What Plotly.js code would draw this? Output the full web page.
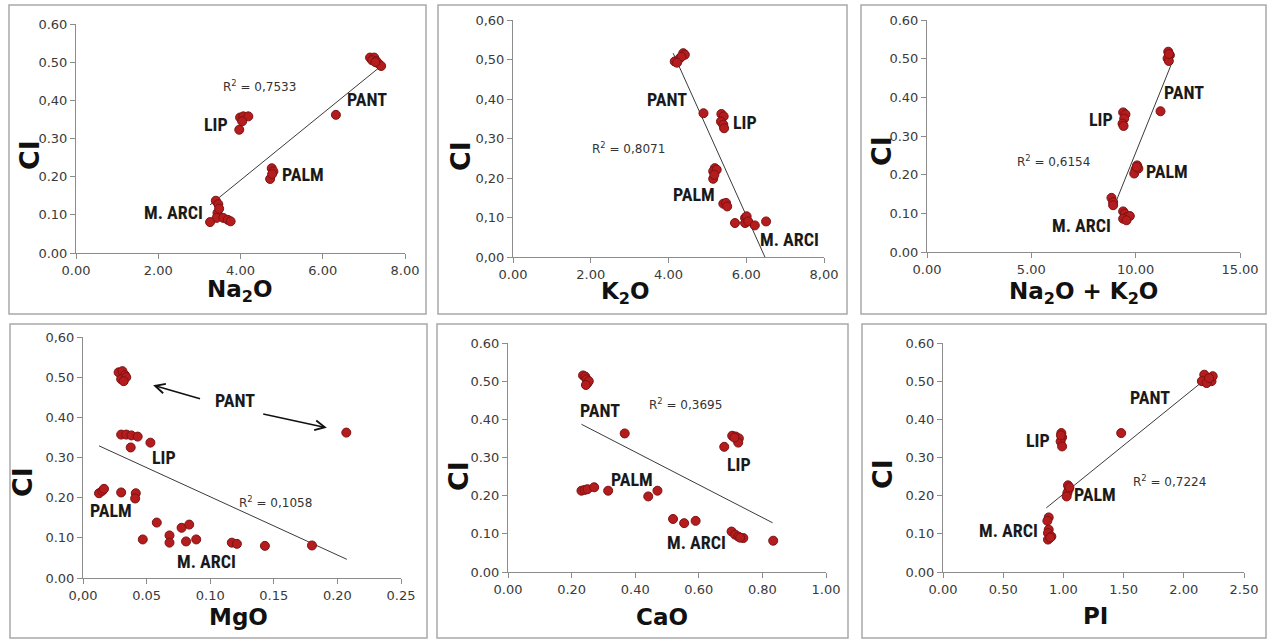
<!DOCTYPE html>
<html>
<head>
<meta charset="utf-8">
<script src="https://cdn.plot.ly/plotly-3.0.1.min.js"></script>
<style>
  html, body { margin: 0; padding: 0; background: #ffffff; }
  #chart { width: 1268px; height: 641px; }
</style>
</head>
<body>
<div id="chart"></div>
<script>
// ---------- DATA ----------
const groupNames = ["PANT", "LIP", "PALM", "M. ARCI"];

// Panel 1: Na2O vs CI
const na2oX  = [7.15, 7.25, 7.20, 7.30, 7.35, 7.42, 7.28, 6.32,
                3.99, 4.07, 4.19, 4.04, 3.97,
                4.76, 4.80, 4.72, 4.77,
                3.40, 3.46, 3.44, 3.42, 3.26, 3.58, 3.69, 3.76, 3.48];
const na2oCI = [0.512, 0.512, 0.505, 0.503, 0.497, 0.490, 0.500, 0.362,
                0.355, 0.358, 0.358, 0.345, 0.323,
                0.222, 0.214, 0.194, 0.207,
                0.137, 0.128, 0.105, 0.092, 0.081, 0.092, 0.087, 0.083, 0.116];
const na2oFitX  = [3.26, 7.42];
const na2oFitCI = [0.126, 0.490];
const na2oR2 = "0,7533";

// Panel 2: K2O vs CI
const k2oX  = [4.16, 4.29, 4.38, 4.42, 4.33, 4.22, 4.90,
               5.36, 5.42, 5.35, 5.41, 5.43,
               5.19, 5.15, 5.24, 5.15, 5.18,
               5.41, 5.48, 5.51, 5.71, 5.97, 6.01, 5.97, 6.05, 6.22, 6.51];
const k2oCI = [0.495, 0.503, 0.516, 0.512, 0.507, 0.492, 0.364,
               0.362, 0.356, 0.343, 0.335, 0.326,
               0.225, 0.217, 0.221, 0.198, 0.208,
               0.135, 0.137, 0.128, 0.086, 0.099, 0.103, 0.086, 0.090, 0.080, 0.090];
const k2oFitX  = [4.12, 6.48];
const k2oFitCI = [0.516, 0.0];
const k2oR2 = "0,8071";

// Panel 3: Na2O + K2O vs CI
const alkX  = [11.56, 11.64, 11.53, 11.59, 11.60, 11.19,
               9.40, 9.51, 9.45, 9.37, 9.42,
               10.07, 9.99, 9.93, 10.13, 10.05,
               8.84, 8.92, 8.92, 9.40, 9.48, 9.61, 9.72, 9.40, 9.56];
const alkCI = [0.518, 0.509, 0.501, 0.494, 0.512, 0.364,
               0.361, 0.356, 0.345, 0.332, 0.326,
               0.224, 0.213, 0.203, 0.216, 0.220,
               0.140, 0.129, 0.121, 0.105, 0.099, 0.091, 0.093, 0.086, 0.082];
const alkFitX  = [8.92, 11.69];
const alkFitCI = [0.112, 0.483];
const alkR2 = "0,6154";

// Panel 4: MgO vs CI
const mgoX  = [0.028, 0.031, 0.033, 0.030, 0.034, 0.032, 0.207,
               0.030, 0.034, 0.038, 0.043, 0.053, 0.0375,
               0.0126, 0.0152, 0.0165, 0.030, 0.0415, 0.041,
               0.047, 0.058, 0.068, 0.068, 0.0775, 0.0835, 0.081, 0.089, 0.117, 0.121, 0.143, 0.180];
const mgoCI = [0.512, 0.515, 0.505, 0.495, 0.500, 0.490, 0.362,
               0.357, 0.357, 0.355, 0.352, 0.337, 0.325,
               0.211, 0.217, 0.222, 0.213, 0.211, 0.198,
               0.096, 0.138, 0.106, 0.088, 0.125, 0.133, 0.091, 0.096, 0.088, 0.085, 0.080, 0.081];
const mgoFitX  = [0.0126, 0.2074];
const mgoFitCI = [0.329, 0.0465];
const mgoR2 = "0,1058";

// Panel 5: CaO vs CI
const caoX  = [0.236, 0.243, 0.247, 0.250, 0.254, 0.245, 0.367,
               0.705, 0.716, 0.726, 0.724, 0.680, 0.712,
               0.231, 0.241, 0.250, 0.271, 0.315, 0.441, 0.470,
               0.519, 0.554, 0.590, 0.703, 0.714, 0.724, 0.740, 0.730, 0.834];
const caoCI = [0.515, 0.512, 0.505, 0.495, 0.500, 0.490, 0.363,
               0.357, 0.355, 0.350, 0.339, 0.328, 0.352,
               0.213, 0.215, 0.217, 0.222, 0.213, 0.198, 0.213,
               0.139, 0.128, 0.134, 0.106, 0.098, 0.093, 0.089, 0.090, 0.082];
const caoFitX  = [0.231, 0.832];
const caoFitCI = [0.387, 0.129];
const caoR2 = "0,3695";

// Panel 6: PI vs CI
const piX  = [2.17, 2.20, 2.15, 2.23, 2.19, 2.24, 2.21, 1.48,
              0.983, 0.989, 0.977, 0.989, 0.980,
              1.038, 1.044, 1.033, 1.027, 1.050,
              0.878, 0.867, 0.878, 0.872, 0.900, 0.872, 0.890];
const piCI = [0.517, 0.504, 0.500, 0.500, 0.495, 0.513, 0.508, 0.364,
              0.364, 0.353, 0.342, 0.329, 0.358,
              0.227, 0.216, 0.207, 0.198, 0.222,
              0.143, 0.134, 0.111, 0.102, 0.093, 0.085, 0.090];
const piFitX  = [0.858, 2.16];
const piFitCI = [0.168, 0.500];
const piR2 = "0,7224";

// Tick labels (as printed in the reference)
const na2oTickVals = [0, 2, 4, 6, 8];
const na2oTickText = ["0.00", "2.00", "4.00", "6.00", "8.00"];
const k2oTickVals  = [0, 2, 4, 6, 8];
const k2oTickText  = ["0.00", "2.00", "4.00", "6.00", "8,00"];
const alkTickVals  = [0, 5, 10, 15];
const alkTickText  = ["0.00", "5.00", "10.00", "15.00"];
const mgoTickVals  = [0, 0.05, 0.10, 0.15, 0.20, 0.25];
const mgoTickText  = ["0,00", "0.05", "0.10", "0.15", "0.20", "0.25"];
const caoTickVals  = [0, 0.2, 0.4, 0.6, 0.8, 1.0];
const caoTickText  = ["0.00", "0.20", "0.40", "0.60", "0.80", "1.00"];
const piTickVals   = [0, 0.5, 1.0, 1.5, 2.0, 2.5];
const piTickText   = ["0.00", "0.50", "1.00", "1.50", "2.00", "2.50"];
const ciTickVals   = [0, 0.1, 0.2, 0.3, 0.4, 0.5, 0.6];
const ciTickTextP1 = ["0.00", "0.10", "0.20", "0.30", "0,40", "0.50", "0.60"];
const ciTickTextP2 = ["0,00", "0,10", "0,20", "0,30", "0,40", "0,50", "0,60"];
const ciTickTextDot = ["0.00", "0.10", "0.20", "0.30", "0.40", "0.50", "0.60"];
const ciTickTextP4 = ["0.00", "0.10", "0.20", "0.30", "0.40", "0.50", "0,60"];

// ---------- LAYOUT ----------
const W = 1268, H = 641;
const FX = px => px / W;
const FY = py => 1 - py / H;

const panels = [
  { x: na2oX, y: na2oCI, fx: na2oFitX, fy: na2oFitCI, r2: na2oR2, xr: [0, 8],
    tv: na2oTickVals, tt: na2oTickText, yt: ciTickTextP1,
    plot: [76, 405, 24, 253], box: [9, 426, 5, 314],
    xtitle: "Na<sub>2</sub>O", xtPos: [240, 291], ytPos: [30, 155],
    r2Pos: [4.47, 0.438],
    labels: [[7.07, 0.401], [3.40, 0.3375], [5.51, 0.205], [2.37, 0.105]] },
  { x: k2oX, y: k2oCI, fx: k2oFitX, fy: k2oFitCI, r2: k2oR2, xr: [0, 8],
    tv: k2oTickVals, tt: k2oTickText, yt: ciTickTextP2,
    plot: [513, 824, 20, 257], box: [438, 847, 5, 314],
    xtitle: "K<sub>2</sub>O", xtPos: [625, 293], ytPos: [460, 156],
    r2Pos: [2.96, 0.2756],
    labels: [[3.97, 0.399], [5.97, 0.341], [4.66, 0.158], [7.12, 0.0455]] },
  { x: alkX, y: alkCI, fx: alkFitX, fy: alkFitCI, r2: alkR2, xr: [0, 15],
    tv: alkTickVals, tt: alkTickText, yt: ciTickTextDot,
    plot: [927, 1240, 20, 252], box: [861, 1266, 5, 314],
    xtitle: "Na<sub>2</sub>O + K<sub>2</sub>O", xtPos: [1083, 293], ytPos: [881, 151],
    r2Pos: [6.04, 0.235],
    labels: [[12.33, 0.4127], [8.36, 0.343], [11.51, 0.207], [7.40, 0.069]] },
  { x: mgoX, y: mgoCI, fx: mgoFitX, fy: mgoFitCI, r2: mgoR2, xr: [0, 0.25],
    tv: mgoTickVals, tt: mgoTickText, yt: ciTickTextP4,
    plot: [83, 401, 337, 578], box: [10, 427, 324, 638],
    xtitle: "MgO", xtPos: [238, 617], ytPos: [22, 482],
    r2Pos: [0.151, 0.189],
    labels: [[0.1195, 0.442], [0.0638, 0.301], [0.0218, 0.167], [0.0972, 0.042]] },
  { x: caoX, y: caoCI, fx: caoFitX, fy: caoFitCI, r2: caoR2, xr: [0, 1.0],
    tv: caoTickVals, tt: caoTickText, yt: ciTickTextDot,
    plot: [508, 826, 343, 572], box: [437, 848, 324, 638],
    xtitle: "CaO", xtPos: [662, 617], ytPos: [458, 476],
    r2Pos: [0.558, 0.44],
    labels: [[0.2896, 0.424], [0.726, 0.282], [0.391, 0.243], [0.593, 0.0775]] },
  { x: piX, y: piCI, fx: piFitX, fy: piFitCI, r2: piR2, xr: [0, 2.5],
    tv: piTickVals, tt: piTickText, yt: ciTickTextDot,
    plot: [943, 1244, 343, 572], box: [862, 1266, 324, 638],
    xtitle: "PI", xtPos: [1095, 616], ytPos: [882, 474],
    r2Pos: [1.883, 0.239],
    labels: [[1.722, 0.4585], [0.789, 0.345], [1.265, 0.2026], [0.545, 0.109]] }
];

const tickFont = { family: "DejaVu Sans, Liberation Sans, sans-serif", size: 13, color: "#3a3a3a" };
const labelFont = { family: "Roboto Condensed, Liberation Sans Narrow, Roboto, sans-serif", size: 18, color: "#1a1a1a", weight: 700 };
const r2Font = { family: "DejaVu Sans, Liberation Sans, sans-serif", size: 12, color: "#333333" };
const titleFont = { family: "DejaVu Sans, Liberation Sans, sans-serif", size: 23, color: "#111111", weight: 700 };
const ciFont = { family: "DejaVu Sans, Liberation Sans, sans-serif", size: 27, color: "#111111", weight: 700 };

const traces = [];
const layout = {
  width: W, height: H,
  margin: { l: 0, r: 0, t: 0, b: 0 },
  paper_bgcolor: "#ffffff",
  plot_bgcolor: "rgba(0,0,0,0)",
  showlegend: false,
  shapes: [],
  annotations: []
};

panels.forEach((p, i) => {
  const n = i === 0 ? "" : String(i + 1);
  const xa = "x" + n, ya = "y" + n;
  const [l, r, t, b] = p.plot;

  layout["xaxis" + n] = {
    domain: [FX(l), FX(r)], anchor: ya, range: p.xr,
    tickvals: p.tv, ticktext: p.tt,
    showgrid: false, zeroline: false, showline: true,
    linecolor: "#8c8c8c", linewidth: 1,
    ticks: "outside", ticklen: 5, tickcolor: "#8c8c8c",
    tickfont: tickFont, fixedrange: true
  };
  layout["yaxis" + n] = {
    domain: [FY(b), FY(t)], anchor: xa, range: [0, 0.6],
    tickvals: ciTickVals, ticktext: p.yt,
    showgrid: false, zeroline: false, showline: true,
    linecolor: "#8c8c8c", linewidth: 1,
    ticks: "outside", ticklen: 5, tickcolor: "#8c8c8c",
    tickfont: tickFont, fixedrange: true
  };

  // trend line
  traces.push({
    type: "scatter", mode: "lines", x: p.fx, y: p.fy, xaxis: xa, yaxis: ya,
    line: { color: "#3a3a3a", width: 1 }, hoverinfo: "skip"
  });
  // samples
  traces.push({
    type: "scatter", mode: "markers", x: p.x, y: p.y, xaxis: xa, yaxis: ya,
    marker: { color: "#b41c1e", size: 9, line: { color: "#7e1212", width: 1 } }
  });

  // panel border
  const [bl, br, bt, bb] = p.box;
  layout.shapes.push({
    type: "rect", xref: "paper", yref: "paper",
    x0: FX(bl), x1: FX(br), y0: FY(bb), y1: FY(bt),
    line: { color: "#a9a9a9", width: 1.5 }, fillcolor: "rgba(0,0,0,0)", layer: "below"
  });

  // axis titles
  layout.annotations.push({
    xref: "paper", yref: "paper", x: FX(p.xtPos[0]), y: FY(p.xtPos[1]),
    text: p.xtitle, showarrow: false, font: titleFont, xanchor: "center", yanchor: "middle"
  });
  layout.annotations.push({
    xref: "paper", yref: "paper", x: FX(p.ytPos[0]), y: FY(p.ytPos[1]),
    text: "CI", textangle: -90, showarrow: false, font: ciFont, xanchor: "center", yanchor: "middle"
  });

  // R² text
  layout.annotations.push({
    xref: xa, yref: ya, x: p.r2Pos[0], y: p.r2Pos[1],
    text: "R<sup>2</sup> = " + p.r2, showarrow: false, font: r2Font
  });

  // group labels
  groupNames.forEach((g, k) => {
    layout.annotations.push({
      xref: xa, yref: ya, x: p.labels[k][0], y: p.labels[k][1],
      text: "<b>" + g + "</b>", showarrow: false, font: labelFont
    });
  });
});

// arrows in MgO panel pointing to the PANT samples
layout.annotations.push({
  xref: "x4", yref: "y4", axref: "x4", ayref: "y4",
  x: 0.0551, y: 0.480, ax: 0.0932, ay: 0.445,
  text: "", showarrow: true, arrowhead: 5, arrowsize: 1.2, arrowwidth: 1.6, arrowcolor: "#111111",
  standoff: 0, startstandoff: 0
});
layout.annotations.push({
  xref: "x4", yref: "y4", axref: "x4", ayref: "y4",
  x: 0.1917, y: 0.374, ax: 0.1405, ay: 0.409,
  text: "", showarrow: true, arrowhead: 5, arrowsize: 1.2, arrowwidth: 1.6, arrowcolor: "#111111",
  standoff: 0, startstandoff: 0
});

Plotly.newPlot("chart", traces, layout, { staticPlot: true, displayModeBar: false });
</script>
</body>
</html>
